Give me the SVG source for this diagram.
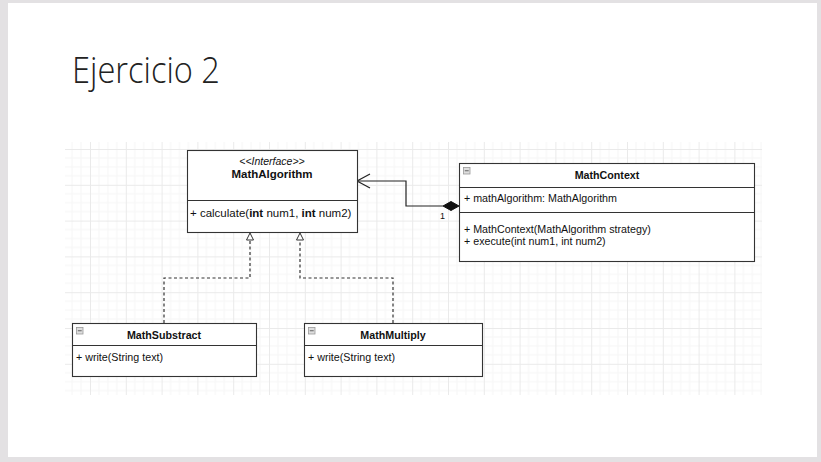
<svg xmlns="http://www.w3.org/2000/svg" width="821" height="462" viewBox="0 0 821 462">
<defs>
<pattern id="grid" patternUnits="userSpaceOnUse" x="90" y="149" width="35.8" height="35.8">
<path d="M8.95 0V35.8M17.9 0V35.8M26.85 0V35.8M0 8.95H35.8M0 17.9H35.8M0 26.85H35.8" stroke="#f6f6f6" stroke-width="1" fill="none"/>
<path d="M0.5 0V35.8M0 0.5H35.8" stroke="#eaeaea" stroke-width="1" fill="none"/>
</pattern>
<g id="icon"><rect x="0.5" y="0.5" width="6.5" height="6.5" fill="#dedede" stroke="#999" stroke-width="0.8"/><path d="M1.8 3.75H5.7" stroke="#555" stroke-width="0.9"/></g>
</defs>
<style>
.box{fill:#fff;stroke:#333;stroke-width:1.1}
.div{stroke:#333;stroke-width:1.1}
.t{font-family:"Liberation Sans",Arial,sans-serif;font-size:10.7px;fill:#111}
.b{font-weight:bold}
.c{text-anchor:middle}
.dash{fill:none;stroke:#333;stroke-width:1.2;stroke-dasharray:3 2.5}
.line{fill:none;stroke:#222;stroke-width:1.2}
</style>
<rect width="821" height="462" fill="#e3e1e3"/>
<rect x="8" y="3" width="809" height="454" fill="#fff"/>
<text x="72" y="83" font-family="'Open Sans',sans-serif" font-weight="300" font-size="37" fill="#222" textLength="148" lengthAdjust="spacingAndGlyphs">Ejercicio 2</text>
<rect x="65" y="142" width="697" height="253" fill="url(#grid)"/>
<g id="connectors">
<path class="line" d="M443 206H406V181H357"/>
<polyline class="line" points="370,174 357,181 370,188"/>
<polygon points="459,206 451,201.5 443,206 451,210.5" fill="#111" stroke="#111" stroke-width="1"/>
<text class="t" x="440" y="219" style="font-size:9px">1</text>
<path class="dash" d="M164 323V278H250V240"/>
<polygon points="250,233 246.5,240 253.5,240" fill="#fff" stroke="#333" stroke-width="1"/>
<path class="dash" d="M393 323V278H300V240"/>
<polygon points="300,233 296.5,240 303.5,240" fill="#fff" stroke="#333" stroke-width="1"/>
</g>
<g id="MathAlgorithm">
<rect class="box" x="187.5" y="150.5" width="170" height="82"/>
<line class="div" x1="187.5" y1="200.5" x2="357.5" y2="200.5"/>
<text class="t c" x="272" y="164.5" style="font-style:italic;font-size:10.5px">&lt;&lt;Interface&gt;&gt;</text>
<text class="t b c" x="272" y="177.5" style="font-size:11.5px">MathAlgorithm</text>
<text class="t" x="190" y="217" style="font-size:11.5px">+ calculate(<tspan class="b">int</tspan> num1, <tspan class="b">int</tspan> num2)</text>
</g>
<g id="MathContext">
<rect class="box" x="459.5" y="163.5" width="295" height="98"/>
<line class="div" x1="459.5" y1="187.5" x2="754.5" y2="187.5"/>
<line class="div" x1="459.5" y1="212.5" x2="754.5" y2="212.5"/>
<use href="#icon" x="463" y="167"/>
<text class="t b c" x="607" y="179">MathContext</text>
<text class="t" x="464" y="202">+ mathAlgorithm: MathAlgorithm</text>
<text class="t" x="464" y="233">+ MathContext(MathAlgorithm strategy)</text>
<text class="t" x="464" y="245">+ execute(int num1, int num2)</text>
</g>
<g id="MathSubstract">
<rect class="box" x="72.5" y="323.5" width="184" height="53"/>
<line class="div" x1="72.5" y1="345.5" x2="256.5" y2="345.5"/>
<use href="#icon" x="76" y="327"/>
<text class="t b c" x="164" y="339">MathSubstract</text>
<text class="t" x="76" y="361">+ write(String text)</text>
</g>
<g id="MathMultiply">
<rect class="box" x="304.5" y="323.5" width="178" height="53"/>
<line class="div" x1="304.5" y1="345.5" x2="482.5" y2="345.5"/>
<use href="#icon" x="308" y="327"/>
<text class="t b c" x="393" y="339">MathMultiply</text>
<text class="t" x="308" y="361">+ write(String text)</text>
</g>
</svg>
